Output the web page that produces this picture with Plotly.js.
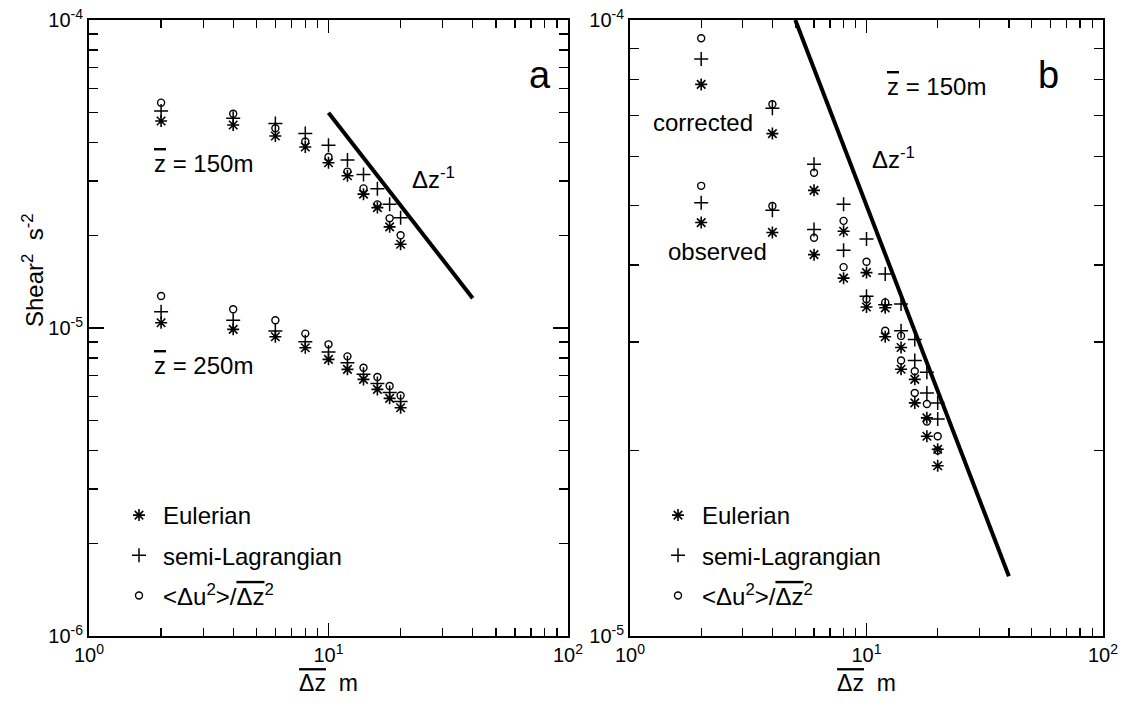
<!DOCTYPE html>
<html><head><meta charset="utf-8">
<script src="https://cdn.plot.ly/plotly-3.0.1.min.js"></script>
<style>html,body{margin:0;padding:0;background:#fff}</style>
</head><body>
<div id="chart" style="width:1131px;height:704px"></div>
<script>
// Separation of the two levels, m
const dz = [2, 4, 6, 8, 10, 12, 14, 16, 18, 20];

// Panel a, z = 150 m
const a150Euler = [4.70e-5, 4.56e-5, 4.20e-5, 3.87e-5, 3.44e-5, 3.12e-5, 2.72e-5, 2.46e-5, 2.13e-5, 1.87e-5];
const a150Semi  = [5.06e-5, 4.80e-5, 4.61e-5, 4.28e-5, 3.92e-5, 3.51e-5, 3.15e-5, 2.83e-5, 2.52e-5, 2.28e-5];
const a150Ratio = [5.39e-5, 4.96e-5, 4.45e-5, 4.03e-5, 3.59e-5, 3.22e-5, 2.84e-5, 2.52e-5, 2.27e-5, 2.00e-5];
// Panel a, z = 250 m
const a250Euler = [1.04e-5, 9.90e-6, 9.37e-6, 8.63e-6, 7.91e-6, 7.34e-6, 6.81e-6, 6.32e-6, 5.91e-6, 5.51e-6];
const a250Semi  = [1.13e-5, 1.06e-5, 9.78e-6, 9.03e-6, 8.36e-6, 7.71e-6, 7.08e-6, 6.60e-6, 6.17e-6, 5.77e-6];
const a250Ratio = [1.27e-5, 1.15e-5, 1.06e-5, 9.59e-6, 8.85e-6, 8.09e-6, 7.43e-6, 6.93e-6, 6.48e-6, 6.04e-6];

// Panel b, z = 150 m, corrected
const bCorEuler = [7.86e-5, 6.54e-5, 5.29e-5, 4.54e-5, 3.89e-5, 3.41e-5, 2.94e-5, 2.61e-5, 2.26e-5, 2.01e-5];
const bCorSemi  = [8.64e-5, 7.19e-5, 5.83e-5, 5.02e-5, 4.41e-5, 3.87e-5, 3.46e-5, 3.03e-5, 2.68e-5, 2.39e-5];
const bCorRatio = [9.34e-5, 7.30e-5, 5.65e-5, 4.72e-5, 4.05e-5, 3.48e-5, 3.07e-5, 2.69e-5, 2.38e-5, 2.11e-5];
// Panel b, z = 150 m, observed
const bObsEuler = [4.69e-5, 4.52e-5, 4.16e-5, 3.81e-5, 3.42e-5, 3.06e-5, 2.71e-5, 2.39e-5, 2.11e-5, 1.89e-5];
const bObsSemi  = [5.05e-5, 4.91e-5, 4.57e-5, 4.23e-5, 3.56e-5, 3.45e-5, 3.13e-5, 2.80e-5, 2.48e-5, 2.25e-5];
const bObsRatio = [5.38e-5, 4.99e-5, 4.43e-5, 3.97e-5, 3.52e-5, 3.13e-5, 2.80e-5, 2.48e-5, 2.23e-5, 2.00e-5];

// Reference slope  Δz^-1
const slopeAX = [10, 40];
const slopeAY = [5.0e-5, 1.25e-5];
const slopeBX = [5, 40];
const slopeBY = [1.0e-4, 1.25e-5];

// Ticks
const xMajor = [1, 10, 100];
const xMajorText = ['10<sup>0</sup>', '10<sup>1</sup>', '10<sup>2</sup>'];
const xMinor = [2,3,4,5,6,7,8,9,20,30,40,50,60,70,80,90];
const yaMajor = [1e-6, 1e-5, 1e-4];
const yaMajorText = ['10<sup>-6</sup>', '10<sup>-5</sup>', '10<sup>-4</sup>'];
const yaMinor = [2e-6,3e-6,4e-6,5e-6,6e-6,7e-6,8e-6,9e-6,2e-5,3e-5,4e-5,5e-5,6e-5,7e-5,8e-5,9e-5];
const ybMajor = [1e-5, 1e-4];
const ybMajorText = ['10<sup>-5</sup>', '10<sup>-4</sup>'];
const ybMinor = [2e-5,3e-5,4e-5,5e-5,6e-5,7e-5,8e-5,9e-5];

const FONT = 'Liberation Sans, Arial, Helvetica, sans-serif';
const OL = s => '<span style="text-decoration:overline">' + s + '</span>';
const labE = 'Eulerian';
const labS = 'semi-Lagrangian';
const labR = '&lt;Δu<sup>2</sup>&gt;/' + OL('Δz') + '<sup>2</sup>';

const mk = {
  E: {symbol: 'asterisk-open', size: 10, color: '#000', line: {color: '#000', width: 1.6}},
  S: {symbol: 'cross-thin-open', size: 10, color: '#000', line: {color: '#000', width: 1.5}},
  R: {symbol: 'circle-open', size: 7, color: '#000', line: {color: '#000', width: 1.4}}
};

function pts(y, kind, xa, ya, leg, grp, show, name) {
  return {type: 'scatter', mode: 'markers', x: dz, y: y, xaxis: xa, yaxis: ya,
    marker: mk[kind], legend: leg, legendgroup: grp, showlegend: show, name: name,
    hoverinfo: 'x+y'};
}

const traces = [
  pts(a150Euler, 'E', 'x', 'y', 'legend', 'aE', true, labE),
  pts(a250Euler, 'E', 'x', 'y', 'legend', 'aE', false, labE),
  pts(a150Semi, 'S', 'x', 'y', 'legend', 'aS', true, labS),
  pts(a250Semi, 'S', 'x', 'y', 'legend', 'aS', false, labS),
  pts(a150Ratio, 'R', 'x', 'y', 'legend', 'aR', true, labR),
  pts(a250Ratio, 'R', 'x', 'y', 'legend', 'aR', false, labR),
  {type: 'scatter', mode: 'lines', x: slopeAX, y: slopeAY, xaxis: 'x', yaxis: 'y',
   line: {color: '#000', width: 4}, showlegend: false, hoverinfo: 'skip'},
  pts(bCorEuler, 'E', 'x2', 'y2', 'legend2', 'bE', true, labE),
  pts(bObsEuler, 'E', 'x2', 'y2', 'legend2', 'bE', false, labE),
  pts(bCorSemi, 'S', 'x2', 'y2', 'legend2', 'bS', true, labS),
  pts(bObsSemi, 'S', 'x2', 'y2', 'legend2', 'bS', false, labS),
  pts(bCorRatio, 'R', 'x2', 'y2', 'legend2', 'bR', true, labR),
  pts(bObsRatio, 'R', 'x2', 'y2', 'legend2', 'bR', false, labR),
  {type: 'scatter', mode: 'lines', x: slopeBX, y: slopeBY, xaxis: 'x2', yaxis: 'y2',
   line: {color: '#000', width: 4}, showlegend: false, hoverinfo: 'skip', cliponaxis: true}
];

const W = 1131, H = 704;
const px = v => v / W;
const py = v => 1 - v / H;

function xAxis(domain, anchor) {
  return {type: 'log', range: [0, 2], domain: domain, anchor: anchor,
    tickmode: 'array', tickvals: xMajor, ticktext: xMajorText,
    ticks: 'inside', ticklen: 13, tickwidth: 1.5, tickcolor: '#000',
    minor: {tickmode: 'array', tickvals: xMinor, ticks: 'inside', ticklen: 8, tickwidth: 1.3, tickcolor: '#000'},
    showline: true, linecolor: '#000', linewidth: 2, mirror: 'ticks',
    showgrid: false, zeroline: false,
    tickfont: {family: FONT, size: 20, color: '#000'},
    title: {text: OL('Δz') + '  m', font: {family: FONT, size: 23, color: '#000'}, standoff: 10}};
}
function yAxis(range, major, text, minor, anchor) {
  return {type: 'log', range: range, domain: [1 - 636 / H, 1 - 20 / H], anchor: anchor,
    tickmode: 'array', tickvals: major, ticktext: text,
    ticks: 'inside', ticklen: 15, tickwidth: 1.5, tickcolor: '#000',
    minor: {tickmode: 'array', tickvals: minor, ticks: 'inside', ticklen: 9, tickwidth: 1.3, tickcolor: '#000'},
    showline: true, linecolor: '#000', linewidth: 2, mirror: 'ticks',
    showgrid: false, zeroline: false,
    tickfont: {family: FONT, size: 20, color: '#000'}};
}

const ann = (text, x, y, size, opts) => Object.assign({xref: 'paper', yref: 'paper', x: px(x), y: py(y),
  text: text, showarrow: false, xanchor: 'left', yanchor: 'middle',
  font: {family: FONT, size: size, color: '#000'}}, opts || {});

const legendStyle = {font: {family: FONT, size: 24, color: '#000'}, tracegroupgap: 6,
  bgcolor: 'rgba(0,0,0,0)', itemwidth: 38, traceorder: 'grouped', itemclick: false,
  xanchor: 'left', yanchor: 'top'};

const layout = {
  width: W, height: H,
  margin: {l: 0, r: 0, t: 0, b: 0},
  paper_bgcolor: '#fff', plot_bgcolor: '#fff',
  font: {family: FONT, color: '#000'},
  xaxis: xAxis([px(89), px(568)], 'y'),
  yaxis: yAxis([-6, -4], yaMajor, yaMajorText, yaMinor, 'x'),
  xaxis2: xAxis([px(630), px(1103)], 'y2'),
  yaxis2: yAxis([-5, -4], ybMajor, ybMajorText, ybMinor, 'x2'),
  legend: Object.assign({x: px(115), y: py(493)}, legendStyle),
  legend2: Object.assign({x: px(654), y: py(493)}, legendStyle),
  annotations: [
    ann('Shear<sup>2</sup>  s<sup>-2</sup>', 33, 270, 24, {xanchor: 'center', textangle: -90}),
    ann('a', 540, 75, 38, {xanchor: 'center'}),
    ann(OL('z') + ' = 150m', 152, 163, 24),
    ann('Δz<sup>-1</sup>', 410, 178, 24),
    ann(OL('z') + ' = 250m', 152, 365, 24),
    ann('b', 1048, 75, 38, {xanchor: 'center'}),
    ann(OL('z') + ' = 150m', 885, 87, 24),
    ann('Δz<sup>-1</sup>', 870, 158, 24),
    ann('corrected', 651, 122, 24),
    ann('observed', 666, 252, 24)
  ]
};

Plotly.newPlot('chart', traces, layout, {staticPlot: true, displayModeBar: false});
</script>
</body></html>
